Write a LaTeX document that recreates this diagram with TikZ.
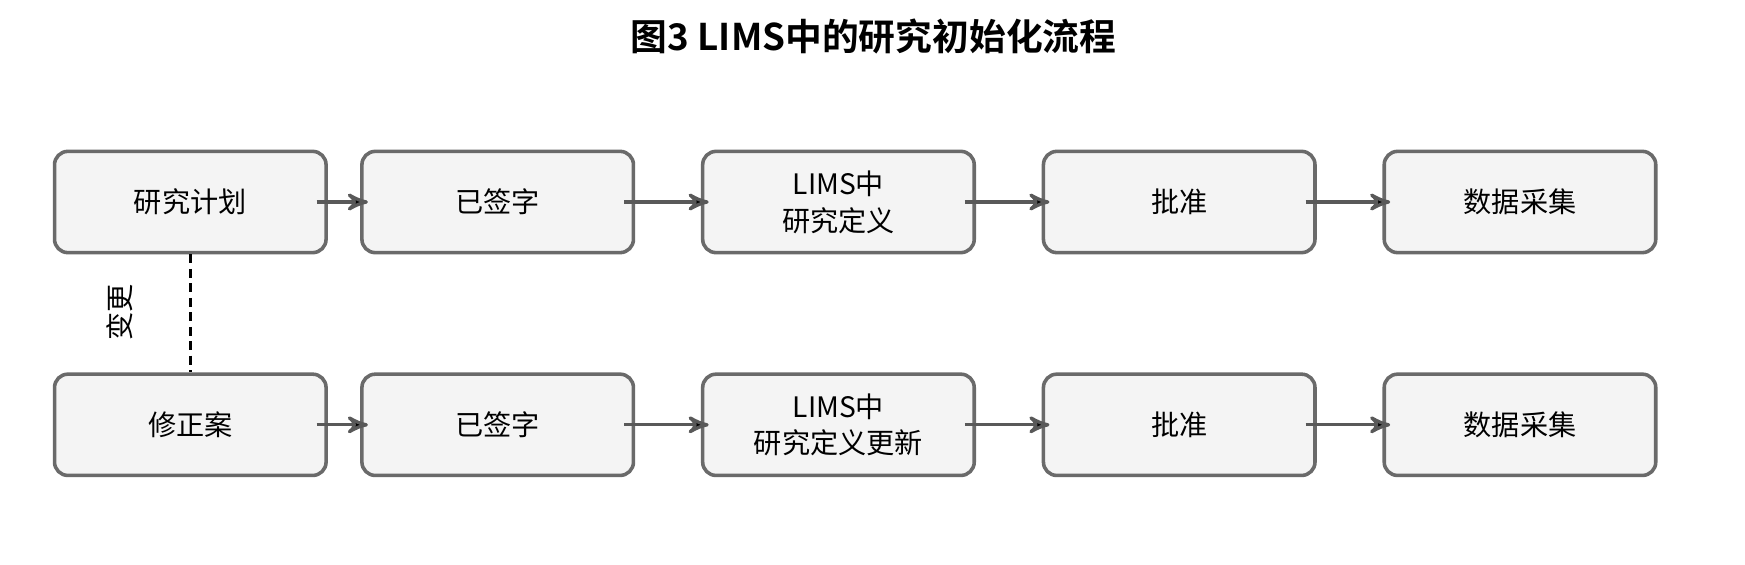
\documentclass[tikz,border=0pt]{standalone}
\usepackage{fontspec}
\setmainfont{Noto Sans CJK SC}[BoldFont={Noto Sans CJK SC Bold}]
\usepackage{tikz}
\usetikzlibrary{arrows,positioning}
\definecolor{boxfill}{HTML}{F4F4F4}
\definecolor{boxline}{HTML}{6A6A6A}
\definecolor{arrowline}{HTML}{595959}
\tikzstyle{stepbox} =
[
	draw=boxline,rectangle,rounded corners=0.12cm,line width=0.032cm,
	fill=boxfill,align=center,font=\fontsize{7.2pt}{9.4pt}\selectfont,
	minimum width=2.44cm, minimum height=0.91cm, inner sep=0pt
]
\tikzstyle{flow} =
[
	->,>=stealth',draw=arrowline,line width=0.03cm,
	shorten <=-0.1cm, shorten >=-0.07cm
]

\begin{document}
\begin{tikzpicture}[node distance=0.59cm]
\useasboundingbox (0,0) rectangle (15.68,-5.07);

\node[font=\fontsize{9.4pt}{11pt}\selectfont\bfseries] (title) at (7.85,-0.33) {图3 LIMS中的研究初始化流程};

\node[stepbox] (P1) at (1.71,-1.815) {研究计划};
\node[stepbox] (P2) [right=0.29cm of P1] {已签字};
\node[stepbox] (P3) [right=of P2] {LIMS中\\研究定义};
\node[stepbox] (P4) [right=of P3] {批准};
\node[stepbox] (P5) [right=of P4] {数据采集};

\node[stepbox] (Q1) [below=1.06cm of P1] {修正案};
\node[stepbox] (Q2) [right=0.29cm of Q1] {已签字};
\node[stepbox] (Q3) [right=of Q2] {LIMS中\\研究定义更新};
\node[stepbox] (Q4) [right=of Q3] {批准};
\node[stepbox] (Q5) [right=of Q4] {数据采集};
%
\path[flow]
	(P1) edge (P2)
	(P2) edge (P3)
	(P3) edge (P4)
	(P4) edge (P5);

\path[flow]
	(Q1) edge (Q2)
	(Q2) edge (Q3)
	(Q3) edge (Q4)
	(Q4) edge (Q5);

\draw[black,line width=0.025cm,dash pattern=on 0.08cm off 0.05cm] (P1) -- (Q1);
\node[rotate=90,font=\fontsize{7.2pt}{9.4pt}\selectfont] (change) at (1.08,-2.81) {变更};

\end{tikzpicture}
\end{document}
